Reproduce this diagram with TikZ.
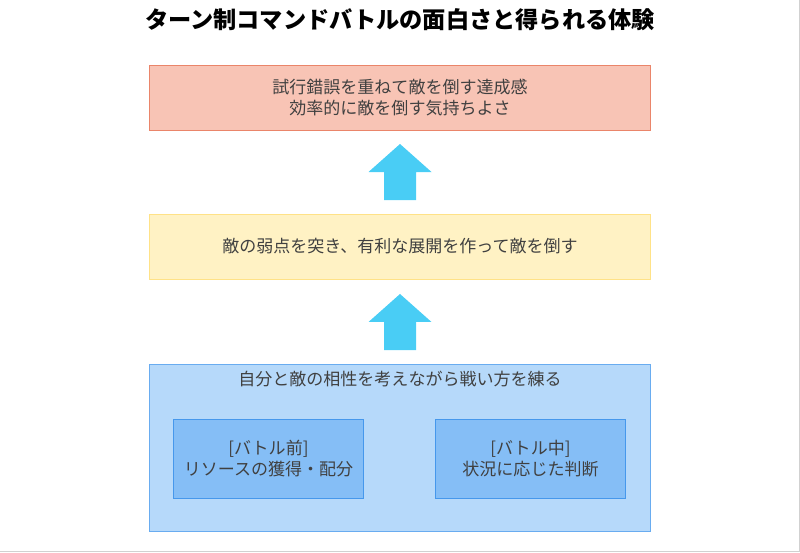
\documentclass[tikz,border=0pt]{standalone}
\usepackage{fontspec}
\setmainfont{Noto Sans CJK JP}
\usetikzlibrary{calc,positioning}
\definecolor{SoftSalmon}{RGB}{248,196,181}
\definecolor{SalmonLine}{RGB}{234,133,106}
\definecolor{SoftCream}{RGB}{255,242,196}
\definecolor{CreamLine}{RGB}{255,226,135}
\definecolor{SoftSky}{RGB}{182,217,250}
\definecolor{SkyLine}{RGB}{105,172,240}
\definecolor{MidSky}{RGB}{133,190,246}
\definecolor{MidLine}{RGB}{70,152,236}
\definecolor{ArrowCyan}{RGB}{73,205,245}
\tikzset{
  boxtext/.style={text=black!75,font=\fontsize{12.1}{15}\selectfont,align=center}
}
\newcommand{\uparrowblock}[1]{%
  \fill[ArrowCyan] ($(#1)+(-16,28)$) -- ($(#1)+(16,28)$) -- ($(#1)+(16,0)$) -- ($(#1)+(31.5,0)$)
    -- ($(#1)+(0,-28)$) -- ($(#1)+(-31.5,0)$) -- ($(#1)+(-16,0)$) -- cycle;}
\begin{document}
\begin{tikzpicture}[x=0.025cm,y=-0.025cm]
\useasboundingbox (0,0) rectangle (800,552);
\draw[black!18,line width=0.8pt] (799.5,0)--(799.5,551.5)--(0,551.5);
\node[font=\bfseries\fontsize{16.5}{20}\selectfont] (title) at (400,20) {ターン制コマンドバトルの面白さと得られる体験};
\node[draw=SalmonLine,fill=SoftSalmon,line width=0.7pt,minimum width=12.5cm,minimum height=1.625cm,boxtext] (top) at (400,97.5) {試行錯誤を重ねて敵を倒す達成感\\効率的に敵を倒す気持ちよさ};
\node[draw=CreamLine,fill=SoftCream,line width=0.7pt,minimum width=12.5cm,minimum height=1.625cm,boxtext] (mid) at (400,246.5) {敵の弱点を突き、有利な展開を作って敵を倒す};
\node[draw=SkyLine,fill=SoftSky,line width=0.7pt,minimum width=12.5cm,minimum height=4.15cm] (bot) at (400,448) {};
\node[boxtext,below=0.05cm of bot.north] (botlabel) {自分と敵の相性を考えながら戦い方を練る};
\node[draw=MidLine,fill=MidSky,line width=0.7pt,minimum width=4.725cm,minimum height=1.975cm,boxtext] (before) at (268.5,458.5) {[バトル前]\\リソースの獲得・配分};
\node[draw=MidLine,fill=MidSky,line width=0.7pt,minimum width=4.725cm,minimum height=1.975cm,boxtext] (during) at (530.5,458.5) {[バトル中]\\状況に応じた判断};
% block arrows between the levels
\coordinate (arrowa) at ($(top.south)!0.5!(mid.north)$);
\coordinate (arrowb) at ($(mid.south)!0.5!(bot.north)$);
\uparrowblock{arrowa}
\uparrowblock{arrowb}
\end{tikzpicture}
\end{document}
